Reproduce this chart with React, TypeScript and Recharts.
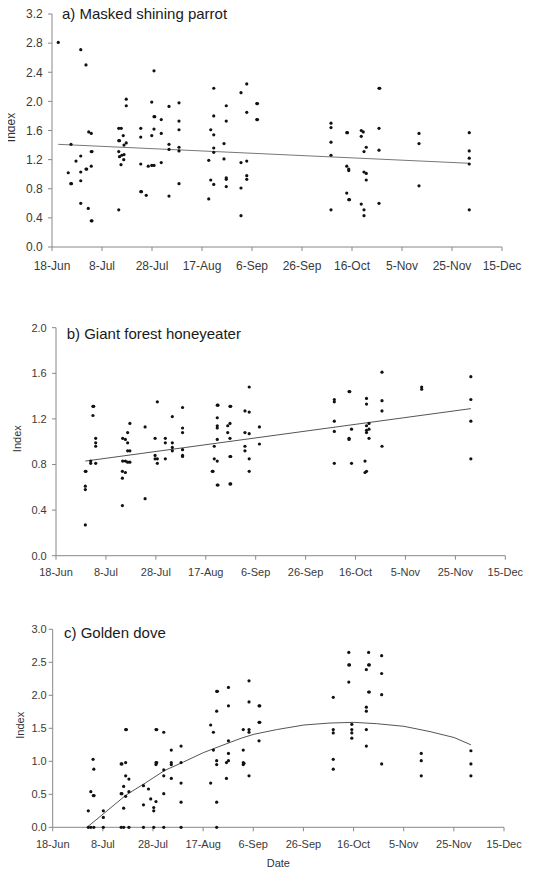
import React from 'react';
import { ComposedChart, Scatter, Line, XAxis, YAxis } from 'recharts';

// days counted from 18-Jun
const dayTicks = [0, 20, 40, 60, 80, 100, 120, 140, 160, 180];
const dateLabels = ['18-Jun', '8-Jul', '28-Jul', '17-Aug', '6-Sep', '26-Sep', '16-Oct', '5-Nov', '25-Nov', '15-Dec'];

const parrotTicks = [0, 0.4, 0.8, 1.2, 1.6, 2.0, 2.4, 2.8, 3.2];
const honeyeaterTicks = [0, 0.4, 0.8, 1.2, 1.6, 2.0];
const doveTicks = [0, 0.5, 1.0, 1.5, 2.0, 2.5, 3.0];

// [day, index]
const parrotRows = [
  [2.5, 2.81], [6.5, 1.02], [7.5, 0.87], [7.8, 0.87], [7.6, 1.41], [9.6, 1.18],
  [11.5, 2.71], [11.5, 1.25], [11.5, 1.03], [11.5, 0.91], [11.5, 0.6],
  [13.6, 2.5], [13.6, 1.07], [13.9, 1.07], [14.5, 0.53], [14.7, 1.58], [15.7, 1.56], [15.7, 1.31], [16.0, 1.31], [15.7, 1.11], [15.7, 0.36], [16.0, 0.36],
  [26.7, 0.51], [26.7, 1.63], [27.7, 1.63], [26.7, 1.46], [27.0, 1.46], [26.7, 1.31], [27.0, 1.24], [27.9, 1.26], [28.8, 1.27], [27.6, 1.13], [28.5, 1.53], [28.8, 1.4], [29.7, 1.43], [28.7, 1.2], [29.7, 2.03], [29.7, 1.94],
  [35.5, 1.63], [35.5, 1.51], [35.5, 1.14], [35.5, 0.76], [35.8, 0.76], [37.7, 0.71], [39.9, 1.99], [39.9, 1.53], [40.8, 2.42], [40.8, 1.79], [41.1, 1.79], [40.8, 1.62], [38.5, 1.11], [39.9, 1.12], [40.8, 1.12],
  [43.7, 1.75], [43.7, 1.56], [43.7, 1.16], [46.8, 1.93], [46.8, 1.41], [46.8, 1.34], [46.8, 0.7],
  [50.8, 1.98], [50.8, 1.73], [50.8, 1.61], [50.8, 1.37], [50.8, 1.32], [50.8, 0.87],
  [62.7, 0.66], [62.7, 1.19], [63.5, 1.61], [63.5, 0.92], [64.7, 2.18], [64.7, 1.8], [64.7, 1.54], [64.7, 1.36], [64.7, 1.3], [64.7, 0.86],
  [68.8, 1.42], [68.8, 1.21], [69.7, 1.94], [69.7, 1.73], [69.7, 0.95], [69.7, 0.93], [69.7, 0.83],
  [75.6, 2.12], [75.6, 1.16], [75.6, 0.81], [75.6, 0.43], [77.9, 2.24], [77.9, 1.85], [77.9, 1.18], [77.9, 0.98], [77.9, 0.93],
  [81.9, 1.97], [82.2, 1.97], [81.9, 1.75], [82.2, 1.75],
  [111.6, 1.7], [111.6, 1.64], [111.6, 1.44], [111.6, 1.26], [111.6, 0.51],
  [117.9, 1.57], [118.2, 1.57], [117.9, 1.11], [118.7, 1.07], [118.7, 1.05], [117.9, 0.74], [118.7, 0.65], [119.0, 0.65],
  [123.7, 1.6], [123.7, 1.52], [124.5, 1.58], [124.8, 1.31], [125.7, 1.37], [124.8, 1.03], [125.7, 1.01], [125.7, 0.92], [123.7, 0.59], [124.8, 0.51], [124.8, 0.43],
  [130.8, 2.18], [131.1, 2.18], [130.8, 1.63], [130.8, 1.33], [130.8, 0.6],
  [146.8, 1.56], [146.8, 1.42], [146.8, 0.84],
  [166.9, 1.57], [166.9, 1.32], [166.9, 1.22], [166.9, 1.14], [166.9, 0.51],
];
const parrotTrend = [[2.5, 1.41], [166.9, 1.15]];

const honeyeaterRows = [
  [11.75, 0.27], [11.75, 0.74], [12.0, 0.74], [11.75, 0.61], [11.75, 0.58], [13.9, 0.83], [13.9, 0.81], [14.8, 1.31], [15.1, 1.31], [14.8, 1.23], [15.9, 1.03], [15.9, 0.99], [15.9, 0.96], [15.9, 0.81],
  [26.6, 0.68], [26.6, 0.44], [26.6, 0.74], [26.7, 1.03], [26.7, 0.83], [27.8, 0.73], [27.8, 1.02], [27.8, 0.83], [28.7, 0.99], [28.7, 1.08], [28.7, 0.92], [28.7, 0.82], [29.6, 0.92], [29.6, 1.16], [29.6, 0.82],
  [35.7, 1.13], [35.7, 0.5], [39.7, 1.03], [39.7, 0.88], [39.7, 0.85], [40.6, 0.85], [40.6, 0.81], [40.6, 1.35],
  [43.8, 1.03], [43.8, 0.99], [43.8, 0.85], [46.6, 1.22], [46.6, 0.99], [46.6, 0.95], [46.6, 0.92],
  [50.7, 1.3], [50.7, 1.12], [50.7, 1.08], [50.7, 0.93], [50.7, 0.88], [50.7, 0.87],
  [62.6, 0.74], [62.9, 0.74], [63.4, 0.96], [63.4, 0.85], [64.6, 1.32], [64.9, 1.32], [64.6, 1.21], [64.6, 1.14], [64.6, 1.12], [64.6, 1.02], [64.6, 0.83], [64.6, 0.62], [64.9, 0.62],
  [68.8, 1.14], [68.8, 1.08], [69.7, 1.31], [70.0, 1.31], [69.7, 1.16], [69.7, 1.03], [69.7, 0.87], [70.0, 0.87], [69.7, 0.63], [70.0, 0.63],
  [75.7, 1.27], [75.7, 1.08], [75.7, 0.96], [75.7, 0.92], [77.4, 1.48], [77.4, 1.26], [77.4, 1.07], [77.4, 0.85], [77.4, 0.74], [81.5, 1.13], [81.5, 0.98],
  [111.5, 1.37], [111.5, 1.35], [111.5, 1.18], [111.5, 1.09], [111.5, 0.81],
  [117.4, 1.44], [117.7, 1.44], [117.4, 1.03], [117.4, 1.02], [118.4, 1.11], [118.4, 0.81],
  [124.4, 1.38], [124.4, 1.33], [124.4, 1.14], [124.4, 1.1], [124.4, 1.08], [125.4, 1.16], [125.4, 1.11], [125.4, 1.03], [123.8, 0.83], [123.8, 0.73], [124.4, 0.74],
  [130.6, 1.61], [130.6, 1.36], [130.6, 1.27], [130.6, 0.96],
  [146.5, 1.48], [146.5, 1.46],
  [166.2, 1.57], [166.2, 1.37], [166.2, 1.18], [166.2, 0.85],
];
const honeyeaterTrend = [[11.75, 0.83], [166.2, 1.29]];

const doveRows = [
  [14.2, 0.25], [14.2, 0], [15.2, 0.54], [15.2, 0], [16.1, 1.03], [16.4, 0.88], [16.2, 0.48], [16.5, 0.48], [16.4, 0],
  [20.2, 0.25], [20.2, 0.15], [20.2, 0],
  [27.3, 0.96], [27.6, 0.96], [27.3, 0.51], [27.6, 0.51], [27.3, 0], [28.3, 0.62], [28.3, 0.29], [28.3, 0], [29.1, 1.48], [29.4, 1.48], [29.1, 0.98], [29.1, 0.78], [29.1, 0.47], [30.4, 0.73], [30.4, 0.54], [30.4, 0],
  [36.2, 0.63], [36.2, 0.34], [36.2, 0], [38.2, 0.58], [39.1, 0.43], [40.3, 0.3], [40.3, 0.25], [40.3, 0], [41.2, 1.48], [41.5, 1.48], [41.2, 0.98], [41.5, 0.98], [41.2, 0.95], [41.2, 0.39],
  [44.3, 1.44], [44.3, 0.87], [44.3, 0.78], [44.3, 0.51], [44.3, 0], [47.3, 1.17], [47.3, 0.98], [47.3, 0.95], [47.3, 0.74],
  [51.2, 1.23], [51.2, 0.98], [51.2, 0.67], [51.2, 0.38], [51.2, 0],
  [63.0, 1.55], [64.1, 1.44], [63.0, 0.67], [64.1, 1.17], [65.4, 2.06], [65.7, 2.06], [65.4, 1.76], [65.4, 1.01], [65.4, 0.95], [65.4, 0.38], [65.4, 0],
  [70.1, 2.12], [70.1, 1.84], [70.1, 1.31], [70.1, 1.12], [70.1, 1.01], [69.3, 0.98], [69.3, 0.74],
  [76.0, 1.48], [76.0, 1.17], [76.0, 0.98], [76.0, 0.95], [76.3, 0.97], [78.3, 2.22], [78.3, 1.9], [78.3, 1.48], [78.3, 1.44], [78.3, 0.78],
  [82.3, 1.84], [82.6, 1.84], [82.3, 1.59], [82.6, 1.59], [82.3, 1.31],
  [111.9, 1.97], [111.9, 1.48], [111.9, 1.43], [111.9, 1.03], [111.9, 0.88],
  [118.1, 2.65], [118.1, 2.46], [118.4, 2.46], [118.1, 2.2], [119.3, 1.56], [119.3, 1.48], [119.3, 1.43], [119.3, 1.35],
  [125.1, 2.39], [126.0, 2.65], [126.0, 2.46], [126.3, 2.46], [126.0, 2.05], [126.3, 2.05], [125.1, 1.82], [125.1, 1.76], [125.1, 1.48], [125.1, 1.23],
  [131.2, 2.6], [131.2, 2.33], [131.2, 2.01], [131.2, 0.96],
  [147.0, 1.12], [147.0, 1.01], [147.0, 0.78],
  [166.8, 1.16], [166.8, 0.96], [166.8, 0.78],
];
const doveCurve = [
  [14.0, 0.01], [20.4, 0.21], [29.3, 0.49], [36.9, 0.67], [44.6, 0.86], [52.2, 0.99], [60.0, 1.13], [67.5, 1.24],
  [75.2, 1.35], [80.3, 1.41], [89.3, 1.48], [100.2, 1.55], [110.6, 1.58], [120.2, 1.59], [129.2, 1.57], [140.1, 1.53],
  [150.5, 1.45], [160.1, 1.36], [166.8, 1.25],
];

const toPoints = (rows: number[][]) => rows.map(([d, v]) => ({ d, v }));

const FONT = '"Liberation Sans", Arial, sans-serif';

const Dot = (props: any) => <circle cx={props.cx} cy={props.cy} r={1.6} fill="#111" />;

const YLabel = (props: any) => {
  const { viewBox, dx, fontSize } = props;
  const x = viewBox.x + viewBox.width + dx;
  const y = viewBox.y + viewBox.height / 2 - 3;
  return (
    <text x={x} y={y} transform={`rotate(-90 ${x} ${y})`} textAnchor="middle" dominantBaseline="central"
      fontSize={fontSize} fill="#333" fontFamily={FONT}>Index</text>
  );
};

const XLabel = (props: any) => {
  const { viewBox } = props;
  return (
    <text x={viewBox.x + viewBox.width / 2} y={viewBox.y + 40} textAnchor="middle"
      fontSize={11} fill="#333" fontFamily={FONT}>Date</text>
  );
};

const Panel = ({ title, rows, trend, yTicks, height, margin, fontSize, titleX, titleY, labelDx,
  xTickMargin, yTickMargin, lineColor, showDate }: any) => (
  <ComposedChart width={549} height={height} margin={margin}>
    <XAxis type="number" dataKey="d" domain={[0, 180]} ticks={dayTicks} interval={0}
      tickFormatter={(t: number) => dateLabels[dayTicks.indexOf(t)]}
      stroke="#888" tickSize={4} tickMargin={xTickMargin} height={30}
      tick={{ fill: '#3a3a3a', fontSize, fontFamily: FONT }}
      label={showDate ? <XLabel /> : undefined} />
    <YAxis type="number" dataKey="v" domain={[0, yTicks[yTicks.length - 1]]} ticks={yTicks} interval={0}
      tickFormatter={(v: number) => v.toFixed(1)} width={40}
      stroke="#888" tickSize={4} tickMargin={yTickMargin}
      tick={{ fill: '#3a3a3a', fontSize, fontFamily: FONT }}
      label={<YLabel dx={labelDx} fontSize={fontSize} />} />
    <Line data={toPoints(trend)} dataKey="v" type="linear" dot={false} activeDot={false}
      stroke={lineColor} strokeWidth={1} isAnimationActive={false} />
    <Scatter data={toPoints(rows)} dataKey="v" shape={<Dot />} isAnimationActive={false} />
    <text x={titleX} y={titleY} fontSize={15} fill="#1a1a1a" fontFamily={FONT}>{title}</text>
  </ComposedChart>
);

export default function App() {
  return (
    <div style={{ width: 549, margin: '-8px 0 0 -8px', fontFamily: FONT }}>
      <Panel title="a) Masked shining parrot" rows={parrotRows} trend={parrotTrend} yTicks={parrotTicks}
        height={293} margin={{ top: 14, right: 47, bottom: 16, left: 12 }} fontSize={12}
        titleX={62} titleY={18.5} labelDx={-41} xTickMargin={10.5} yTickMargin={5.3} lineColor="#777" />
      <Panel title="b) Giant forest honeyeater" rows={honeyeaterRows} trend={honeyeaterTrend} yTicks={honeyeaterTicks}
        height={300} margin={{ top: 34.7, right: 43.7, bottom: 7.3, left: 16 }} fontSize={11}
        titleX={66.7} titleY={46} labelDx={-39.3} xTickMargin={8.5} yTickMargin={5.3} lineColor="#555" />
      <Panel title="c) Golden dove" rows={doveRows} trend={doveCurve} yTicks={doveTicks}
        height={278} margin={{ top: 36.3, right: 45, bottom: 13.7, left: 12.7 }} fontSize={11}
        titleX={64} titleY={45.3} labelDx={-32.7} xTickMargin={8.9} yTickMargin={2} lineColor="#555" showDate />
    </div>
  );
}
